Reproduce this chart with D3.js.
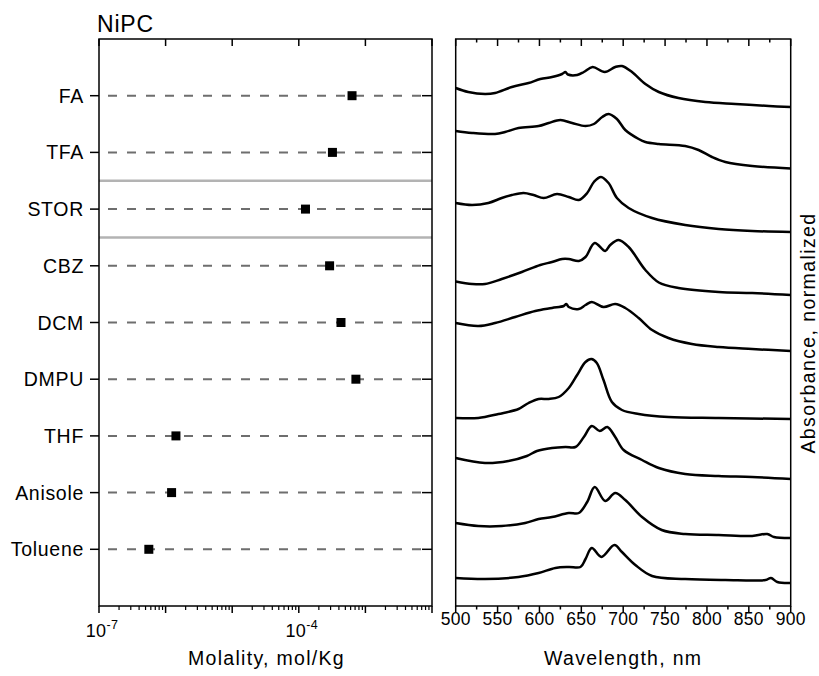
<!DOCTYPE html>
<html><head><meta charset="utf-8">
<script src="https://cdn.jsdelivr.net/npm/d3@7"></script>
<style>
body{margin:0;background:#fff}
text{font-family:"Liberation Sans",Arial,Helvetica,sans-serif;fill:#000}
</style>
</head><body>
<svg id="chart" width="819" height="676"></svg>
<script>
// ---------- data ----------
const title = "NiPC";
const solvents = ["FA","TFA","STOR","CBZ","DCM","DMPU","THF","Anisole","Toluene"];
const molality = [6.3e-4, 3.2e-4, 1.26e-4, 2.9e-4, 4.3e-4, 7.2e-4, 1.43e-6, 1.23e-6, 5.6e-7];
const molalityMajorTicks = [1e-7, 1e-6, 1e-5, 1e-4, 1e-3, 1e-2];
const molalityLabelExponents = [-7, -4];
const separatorPositions = [2.5, 3.5];
const wavelengthMajorTicks = [500,550,600,650,700,750,800,850,900];
const wavelengthMinorTicks = [525,575,625,675,725,775,825,875];

// spectra: [wavelength nm, normalized absorbance incl. stacking offset (arb. units)]
const specFA = [[500,518],[515,514],[535,512],[547,513],[567,519],[587,523],[601,527],[615,529],[627,532],[631,534],[634,531.5],[645,531],[653,534],[663.5,539],[678,534],[690.5,539],[698.5,540],[710.5,534],[726.5,522],[742.5,514],[766,508],[798,504],[834,502],[874,500],[900,499]];
const specTFA = [[500,475],[519.5,473],[547,472],[559,474],[575,478],[599,480],[611,483],[625,486],[639,483],[655,480],[665,482],[675,489],[682.5,492],[692.5,487],[702.5,476],[718.5,467],[726.5,464],[742.5,462],[774,460],[790,456],[806,449],[822,444],[854,440],[900,437.5]];
const specSTOR = [[500,403],[519.5,401],[539,403],[555,408],[567,411],[581,413],[593,411],[605,408],[621,412],[635,409],[647,406],[657,413],[665,424],[673.5,429],[682.5,423],[692.5,408],[706.5,398],[734.5,388],[774,381],[814,377],[854,375],[900,374]];
const specCBZ = [[500,324.5],[519.5,322],[535,322],[555,327],[579,334],[601,341],[615,344],[627,347],[635,347],[647,345],[655,349],[666,363],[678.5,355],[684.5,361],[694.5,366],[706.5,359],[726.5,336],[742.5,323.5],[766,318],[814,314],[854,313],[900,311]];
const specDCM = [[500,283],[527,280],[547,283],[571,289],[595,295],[615,298],[629,300],[632,302],[635,299],[647,297],[655,301],[662.5,304],[676.5,299],[690.5,302],[702.5,298],[718.5,288],[734.5,276],[754,268],[782,262],[814,259],[854,257],[900,255]];
const specDMPU = [[500,188],[527,188],[551,192],[575,197],[587,203],[599,207],[611,207],[623,209],[635,218],[645,231],[655,244],[662,247],[668.5,243],[676.5,226],[686.5,204],[698.5,196],[718.5,192],[754,189],[814,188],[900,187]];
const specTHF = [[500,148],[535,143],[563,145],[585,150],[597,155],[615,158],[631,159],[643,159],[653,169],[662.5,180],[672,175],[681,179],[690.5,169],[700.5,156],[722.5,146],[742.5,138],[774,132],[814,130],[854,129],[900,127]];
const specAnisole = [[500,83],[527,80],[555,80],[583,83],[599,87],[615,89],[635,93],[647,93],[657,104],[666,119],[678.5,105],[690.5,113],[702.5,106],[722.5,89],[746,76],[774,72],[814,71],[854,70],[872,72],[880,69],[900,68]];
const specToluene = [[500,28],[535,27],[575,29],[599,33],[619,38],[635,39],[649,39],[655,47],[662.5,58],[674,49],[689.5,61],[698.5,54],[714.5,41],[734.5,30],[774,27],[822,26],[870,26],[876.5,28],[884,24],[900,23]];
const spectra = [specFA, specTFA, specSTOR, specCBZ, specDCM, specDMPU, specTHF, specAnisole, specToluene];

// ---------- layout ----------
const svg = d3.select("#chart");
const yTop = 39, yBot = 606;
const L = {x0: 99, x1: 432};
const R = {x0: 455.7, x1: 790.7};

const xMol = d3.scaleLog().domain([1e-7, 1e-2]).range([L.x0, L.x1]);
const yCat = d3.scaleLinear().domain([0, solvents.length + 1]).range([yTop, yBot]);
const xWl = d3.scaleLinear().domain([500, 900]).range([R.x0, R.x1]);
const yAbs = d3.scaleLinear().domain([0, 567]).range([yBot, yTop]);

// ---------- left panel ----------
const gl = svg.append("g");

gl.selectAll("line.sep").data(separatorPositions).join("line")
  .attr("x1", L.x0).attr("x2", L.x1)
  .attr("y1", d => yCat(d)).attr("y2", d => yCat(d))
  .attr("stroke", "#b3b3b3").attr("stroke-width", 2.5);

gl.selectAll("line.guide").data(solvents).join("line")
  .attr("x1", L.x0 + 9).attr("x2", L.x1 - 10)
  .attr("y1", (d,i) => yCat(i+1)).attr("y2", (d,i) => yCat(i+1))
  .attr("stroke", "#6e6e6e").attr("stroke-width", 2)
  .attr("stroke-dasharray", "9,10");

gl.selectAll("line.tl").data(solvents).join("line")
  .attr("x1", L.x0 - 9).attr("x2", L.x0)
  .attr("y1", (d,i) => yCat(i+1)).attr("y2", (d,i) => yCat(i+1))
  .attr("stroke", "#000").attr("stroke-width", 1.5);
gl.selectAll("line.tr").data(solvents).join("line")
  .attr("x1", L.x1 - 10).attr("x2", L.x1)
  .attr("y1", (d,i) => yCat(i+1)).attr("y2", (d,i) => yCat(i+1))
  .attr("stroke", "#000").attr("stroke-width", 1.5);

gl.selectAll("text.cat").data(solvents).join("text")
  .attr("x", L.x0 - 15).attr("y", (d,i) => yCat(i+1))
  .attr("dy", "0.36em").attr("text-anchor", "end")
  .attr("font-size", 19.5).attr("letter-spacing", 0.7)
  .text(d => d);

gl.selectAll("rect.pt").data(molality).join("rect")
  .attr("x", d => xMol(d) - 4.5).attr("y", (d,i) => yCat(i+1) - 4.5)
  .attr("width", 9).attr("height", 9).attr("fill", "#000");

gl.append("rect").attr("x", L.x0).attr("y", yTop)
  .attr("width", L.x1 - L.x0).attr("height", yBot - yTop)
  .attr("fill", "none").attr("stroke", "#000").attr("stroke-width", 1.5);

const minorMol = [];
for (let e = -7; e < -2; e++) for (let k = 2; k <= 9; k++) minorMol.push(k * Math.pow(10, e));
gl.selectAll("line.mjb").data(molalityMajorTicks).join("line")
  .attr("x1", d => xMol(d)).attr("x2", d => xMol(d))
  .attr("y1", yBot).attr("y2", yBot + 7)
  .attr("stroke", "#000").attr("stroke-width", 1.5);
gl.selectAll("line.mnb").data(minorMol).join("line")
  .attr("x1", d => xMol(d)).attr("x2", d => xMol(d))
  .attr("y1", yBot).attr("y2", yBot + 4)
  .attr("stroke", "#000").attr("stroke-width", 1.2);
gl.selectAll("line.mjt").data(molalityMajorTicks).join("line")
  .attr("x1", d => xMol(d)).attr("x2", d => xMol(d))
  .attr("y1", yTop).attr("y2", yTop + 7)
  .attr("stroke", "#000").attr("stroke-width", 1.5);

const lbl = gl.selectAll("text.molt").data(molalityLabelExponents).join("text")
  .attr("x", d => xMol(Math.pow(10, d)) + 3).attr("y", 637)
  .attr("text-anchor", "middle").attr("font-size", 18).attr("letter-spacing", 0.4);
lbl.append("tspan").text("10");
lbl.append("tspan").attr("dy", -8).attr("font-size", 12.5).text(d => String(d));

svg.append("text").attr("x", 97).attr("y", 32)
  .attr("font-size", 23).attr("letter-spacing", 0.8).text(title);
svg.append("text").attr("x", (L.x0 + L.x1) / 2 + 1).attr("y", 665)
  .attr("text-anchor", "middle").attr("font-size", 19.5).attr("letter-spacing", 1.3)
  .text("Molality, mol/Kg");

// ---------- right panel ----------
const gr = svg.append("g");
const line = d3.line().x(d => xWl(d[0])).y(d => yAbs(d[1])).curve(d3.curveCatmullRom.alpha(0.5));
gr.selectAll("path.spec").data(spectra).join("path")
  .attr("d", line).attr("fill", "none")
  .attr("stroke", "#000").attr("stroke-width", 2.5).attr("stroke-linejoin", "round");

gr.append("rect").attr("x", R.x0).attr("y", yTop)
  .attr("width", R.x1 - R.x0).attr("height", yBot - yTop)
  .attr("fill", "none").attr("stroke", "#000").attr("stroke-width", 1.5);

const tickSets = [
  {data: wavelengthMajorTicks, len: 7},
  {data: wavelengthMinorTicks, len: 3.5}
];
tickSets.forEach(ts => {
  gr.selectAll(null).data(ts.data).join("line")
    .attr("x1", d => xWl(d)).attr("x2", d => xWl(d))
    .attr("y1", yBot).attr("y2", yBot + ts.len)
    .attr("stroke", "#000").attr("stroke-width", 1.5);
  gr.selectAll(null).data(ts.data).join("line")
    .attr("x1", d => xWl(d)).attr("x2", d => xWl(d))
    .attr("y1", yTop).attr("y2", yTop + ts.len)
    .attr("stroke", "#000").attr("stroke-width", 1.5);
});
gr.selectAll("text.wl").data(wavelengthMajorTicks).join("text")
  .attr("x", d => xWl(d)).attr("y", 625)
  .attr("text-anchor", "middle").attr("font-size", 17.5).attr("letter-spacing", 0.3)
  .text(d => d);

svg.append("text").attr("x", (R.x0 + R.x1) / 2).attr("y", 665)
  .attr("text-anchor", "middle").attr("font-size", 19.5).attr("letter-spacing", 1.3)
  .text("Wavelength, nm");
svg.append("text")
  .attr("transform", "translate(815,333) rotate(-90)")
  .attr("text-anchor", "middle").attr("font-size", 19.5).attr("letter-spacing", 1.4)
  .text("Absorbance, normalized");
</script>
</body></html>
